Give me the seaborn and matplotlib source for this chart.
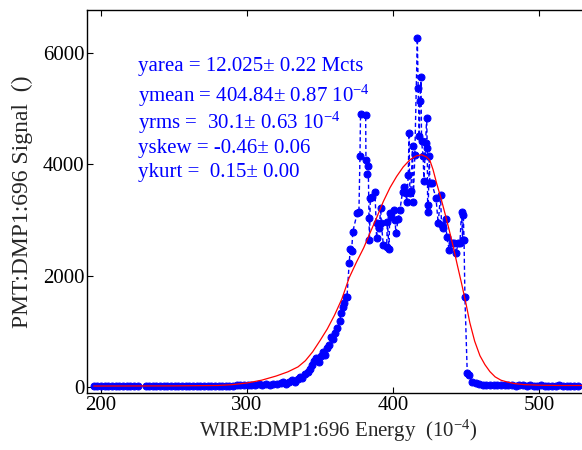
import numpy as np
import pandas as pd
import matplotlib
matplotlib.use("Agg")
import matplotlib.pyplot as plt
import seaborn as sns

# ==========================================
# data
# ==========================================
energy = [195, 197.5, 200, 202.5, 205, 207.5, 210, 212.5, 215, 217.5, 220, 222.5, 225,
          230.5, 233, 235.5, 238, 240.5, 243, 245.5, 248, 250.5, 253, 255.5, 258, 260.5,
          263, 265.5, 268, 270.5, 273, 275.5, 278, 280.5, 283, 285.5, 288, 290.5, 293, 295.5,
          298, 300.5, 303, 305.5, 308, 310.5, 313, 315.5, 318, 320.5, 323, 325, 327, 329,
          331, 333, 335, 336.5, 338, 340, 342, 343.5, 344.5, 346, 347.5, 349, 350.5, 352,
          353.5, 355, 356, 357.5, 359, 360.5, 362, 363.5, 364.5, 365.5, 366.5, 367.5, 368.5,
          370, 370.8, 371.7, 372.5, 375.5, 376.7, 377.4, 377.8,
          381.3, 381.5, 382.4, 383.1, 383.6, 383.9, 384.5, 385.4, 387.7, 388.8, 389.3, 390.6,
          391.6, 392, 393.4, 395.7, 396.2, 397.3, 397.8, 398.6, 400.9, 401.4, 402, 403.6,
          404.8, 406.6, 407.5, 408.9, 409.4, 410.5, 411, 411.6, 412.3, 413.4, 413.9, 415,
          416.7, 417.3, 418, 418.5, 419.2, 419.6, 420.7, 421.2, 422.4, 423.1, 423.5, 423.8,
          424.2, 424.9, 425.3, 426.5, 429.5, 431, 432.6, 433.3, 434.5, 436.3, 436.8, 438.6,
          440.2, 441.6, 443.2, 444.7, 445.9, 447, 447.7, 448.2, 448.7, 449.3, 450.9, 452.2,
          453.9, 456.6, 459, 461.5, 464, 466.5, 469, 471.5, 474, 476.5, 479, 481.5, 484,
          486.5, 489, 491.5, 494, 496.5, 499, 501.5, 504, 506.5, 509, 511.5, 514, 516.5,
          519, 521.5, 524, 526.5]
signal = [20, 18, 22, 19, 21, 18, 20, 22, 19, 21, 18, 20, 22,
          19, 21, 18, 20, 22, 19, 17, 21, 20, 18, 22, 19, 21,
          17, 20, 22, 18, 21, 19, 16, 20, 22, 18, 21, 23, 26, 30,
          35, 28, 40, 33, 45, 38, 55, 42, 60, 48, 70, 85, 60, 95,
          120, 90, 150, 185, 160, 230, 260, 330, 400, 470, 520, 450, 560, 620,
          580, 700, 760, 890, 860, 970, 1050, 1180, 1320, 1440, 1500, 1620, 1610,
          2220, 2480, 2440, 2790, 3120, 3145, 4140, 4900,
          4890, 4080, 3820, 3960, 3040, 2640, 3400, 3420, 3510, 2680, 2950, 2860,
          3215, 2950, 2550, 2520, 2970, 2480, 3130, 3060, 3170, 3000, 2770, 3010,
          3180, 3510, 3600, 3480, 3330, 3800, 4560, 3480, 3520, 4320, 3330, 4170,
          6260, 5370, 4500, 5130, 5560, 4410, 4140, 3690, 4390, 4830, 4290, 3150,
          3270, 4140, 3660, 3670, 3390, 2940, 3450, 2910, 2850, 3010, 2700, 2460,
          2590, 2590, 2400, 2590, 2590, 3150, 2640, 3090, 2640, 1620, 250, 216,
          95, 65, 45, 35, 40, 30, 35, 28, 30, 25, 30, 27, 24,
          28, 25, 22, 26, 24, 22, 25, 23, 21, 24, 22, 25, 21,
          23, 22, 24, 21]

fit_energy = [195, 250, 280, 290, 300, 310, 320, 328, 335, 340, 345, 350, 355, 360, 365,
              370, 375, 380, 384.2, 389, 393.4, 398, 402.5, 407, 411.6, 416,
              419.6, 423, 425.3, 427.5, 429.9, 433, 435.6, 438.5, 441.3, 444, 447, 450,
              452.7, 456, 459.6, 463, 466.4, 470, 474, 477.9, 483, 490, 500, 515, 535]
fit_signal = [15, 18, 25, 40, 70, 120, 195, 270, 360, 470, 630, 830, 1040, 1290, 1580,
              1960, 2240, 2500, 2760, 3050, 3330, 3580, 3780, 3950, 4080, 4150,
              4170, 4130, 4070, 3900, 3660, 3380, 3120, 2820, 2520, 2200, 1860, 1500,
              1150, 820, 560, 400, 275, 180, 120, 90, 60, 40, 30, 25, 25]

stats_text = ["yarea = 12.025\u00b1 0.22 Mcts",
              "ymean = 404.84\u00b1 0.87 10$^{-4}$",
              "yrms =  30.1\u00b1 0.63 10$^{-4}$",
              "yskew = -0.46\u00b1 0.06",
              "ykurt =  0.15\u00b1 0.00"]

# ==========================================
# style
# ==========================================
sns.set_style("ticks")
plt.rcParams['font.family'] = ['Liberation Serif', 'DejaVu Serif']
plt.rcParams['mathtext.fontset'] = 'custom'
plt.rcParams['mathtext.rm'] = 'Liberation Serif'
plt.rcParams['mathtext.it'] = 'Liberation Serif'

df_scan = pd.DataFrame({'Energy': energy, 'Signal': signal})
df_fit = pd.DataFrame({'Energy': fit_energy, 'Signal': fit_signal})

fig = plt.figure(figsize=(5.82, 4.5), dpi=100)
ax = fig.add_axes([87 / 582, 57 / 450, 503 / 582, 383.5 / 450])

sns.lineplot(data=df_scan, x='Energy', y='Signal', sort=False, ax=ax,
             color='blue', linestyle='--', linewidth=1.0,
             marker='o', markersize=5, markeredgecolor='blue', dashes=False)
ax.lines[-1].set_linestyle((0, (3, 2)))
sns.lineplot(data=df_fit, x='Energy', y='Signal', sort=False, ax=ax,
             color='red', linewidth=0.9)

ax.set_xlim(190.4, 535)
ax.set_ylim(-110, 6780)
ax.set_xticks([200, 300, 400, 500])
ax.set_yticks([0, 2000, 4000, 6000])
ax.tick_params(direction='in', length=4, width=0.8, labelsize=15, top=True, right=True,
               colors='black', pad=2)
for s in ax.spines.values():
    s.set_linewidth(1.0)
    s.set_color('black')

ax.set_xlabel('WIRE:DMP1:696 Energy  (10$^{-4}$)', fontsize=15, labelpad=2)
ax.set_ylabel('PMT:DMP1:696 Signal  ()', fontsize=17)
ax.yaxis.set_label_coords(-54 / 503, 0.5)

y_pos = [66, 96, 123, 148, 173]
for line, yp in zip(stats_text, y_pos):
    fig.text(138 / 582, 1 - yp / 450, line, color='blue', fontsize=15,
             ha='left', va='center')

fig.savefig('out.png', dpi=100)
